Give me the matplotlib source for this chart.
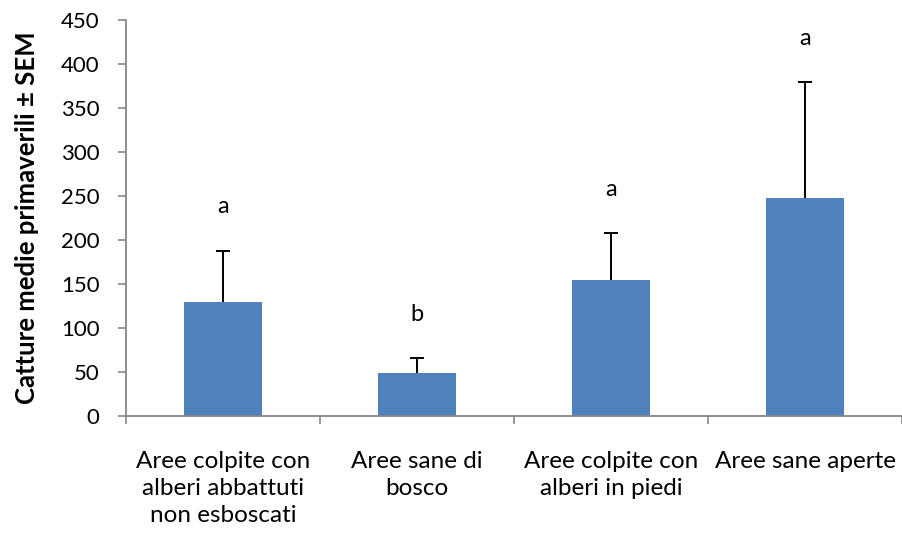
import matplotlib
matplotlib.use('Agg')
import matplotlib.pyplot as plt
import numpy as np

plt.rcParams['font.family'] = ['Lato', 'DejaVu Sans']

# mean spring catches and their SEM
categories = ['Aree colpite con\nalberi abbattuti\nnon esboscati',
              'Aree sane di\nbosco',
              'Aree colpite con\nalberi in piedi',
              'Aree sane aperte']
means = [129, 49, 154, 248]
sem = [59, 17, 54, 131]
letters = ['a', 'b', 'a', 'a']

fig = plt.figure(figsize=(9.03, 5.35), dpi=100)
ax = fig.add_axes([0.1395, 0.2224, 0.8595, 0.7402])

x = np.arange(len(categories))
tops = np.array(means) + np.array(sem)
ax.bar(x, means, width=0.4, color='#4F81BD', zorder=2)
# upper half of the error bar only
ax.vlines(x, means, tops, color='black', linewidth=1.4, zorder=3)
ax.plot(x, tops, ls='none', marker='_', ms=9.5, mew=1.4, color='black', zorder=3)

for xi, t, let in zip(x, tops, letters):
    ax.annotate(let, xy=(xi, t), xytext=(0, 31.5), textcoords='offset points',
                ha='center', va='center', fontsize=17, color='black')

ax.set_xlim(-0.5, len(categories) - 0.5)
ax.set_ylim(0, 450)
ax.set_yticks(np.arange(0, 451, 50))

ax.set_xticks(x)
ax.set_xticklabels(categories, fontsize=17.5, linespacing=1.33)
ax.tick_params(axis='x', which='major', length=0, pad=25.5)
ax.set_xticks(np.arange(len(categories) + 1) - 0.5, minor=True)
ax.tick_params(axis='x', which='minor', length=6, color='#868686', width=1.2)
ax.tick_params(axis='y', length=6, color='#868686', width=1.2, labelsize=16, pad=13)

for side in ['top', 'right']:
    ax.spines[side].set_visible(False)
for side in ['left', 'bottom']:
    ax.spines[side].set_color('#868686')
    ax.spines[side].set_linewidth(1.3)

ax.set_ylabel('Catture medie primaverili \u00b1 SEM', fontsize=18.5,
              fontweight='bold', labelpad=16)

fig.savefig('out.png', dpi=100)
